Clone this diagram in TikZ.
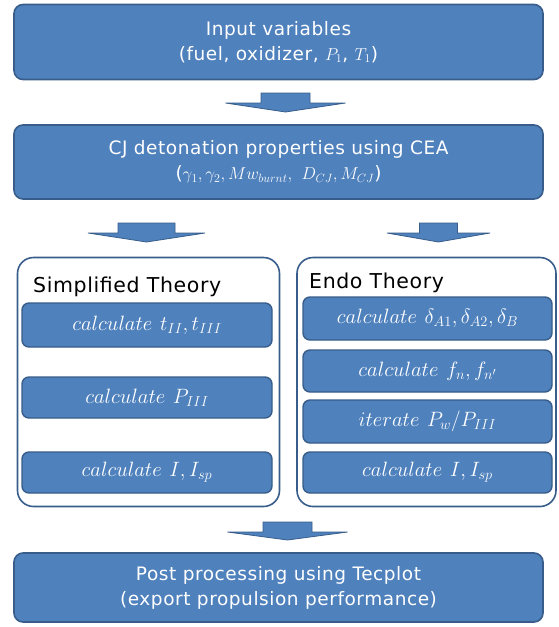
\documentclass[tikz,border=0pt]{standalone}
\usepackage{fontspec}
\setmainfont[LetterSpace=3]{DejaVu Sans}
\usetikzlibrary{calc}
\definecolor{bfill}{HTML}{4F81BD}
\definecolor{bline}{HTML}{385D8A}
\begin{document}
\begin{tikzpicture}[x=1pt,y=-1pt,
  mainbox/.style={draw=bline,fill=bfill,line width=1.6pt,rounded corners=9pt,text=white,
    align=center,font=\fontsize{18.5}{25}\selectfont,inner sep=0pt},
  groupbox/.style={draw=bline,fill=white,line width=1.6pt,rounded corners=16pt,inner sep=0pt},
  stepbox/.style={draw=bline,fill=bfill,line width=1.4pt,rounded corners=7pt,text=white,
    font=\fontsize{22}{26}\selectfont,inner sep=0pt},
  grouptitle/.style={anchor=base west,font=\fontsize{20.5}{24}\selectfont,text=black,inner sep=0pt},
  blockarrow/.style={fill=bfill,draw=bline,line width=0.8pt,line join=miter}]
\useasboundingbox (0,0) rectangle (558,627);

\node[mainbox,minimum width=529pt,minimum height=75pt] (inp) at (278.5,42)
  {Input variables\\(fuel, oxidizer, $P_1$, $T_1$)};
\node[mainbox,minimum width=529pt,minimum height=74pt] (cj) at (278.5,162)
  {CJ detonation properties using CEA\\($\gamma_1,\gamma_2,Mw_{burnt},\ D_{CJ},M_{CJ}$)};

\node[groupbox,minimum width=262pt,minimum height=249pt] (simp) at (148.5,382) {};
\node[groupbox,minimum width=259pt,minimum height=249pt] (endo) at (426.5,382) {};

\node[grouptitle] (simpt) at (33,292) {Simplified Theory};
\node[grouptitle] (endot) at (309,288) {Endo Theory};

\node[stepbox,minimum width=250pt,minimum height=44pt] (s1) at (147,325) {$calculate\ t_{II},t_{III}$};
\node[stepbox,minimum width=250pt,minimum height=41pt] (s2) at (147,397.5) {$calculate\ P_{III}$};
\node[stepbox,minimum width=250pt,minimum height=41pt] (s3) at (147,472.5) {$calculate\ I,I_{sp}$};

\node[stepbox,minimum width=249pt,minimum height=43pt] (e1) at (427.5,318.5) {$calculate\ \delta_{A1},\delta_{A2},\delta_B$};
\node[stepbox,minimum width=249pt,minimum height=42pt] (e2) at (427.5,371) {$calculate\ f_n,f_{n'}$};
\node[stepbox,minimum width=249pt,minimum height=43pt] (e3) at (427.5,421.5) {$iterate\ P_w/P_{III}$};
\node[stepbox,minimum width=249pt,minimum height=41pt] (e4) at (427.5,472.5) {$calculate\ I,I_{sp}$};

\node[mainbox,minimum width=529pt,minimum height=69pt] (post) at (278.5,587.5)
  {Post processing using Tecplot\\(export propulsion performance)};

% block arrows
\newcommand{\blockarr}[6]{% cx, top, headbase, tip, stem half, head half
  \draw[blockarrow] (#1-#5,#2) -- (#1+#5,#2) -- (#1+#5,#3) -- (#1+#6,#3) -- (#1,#4)
    -- (#1-#6,#3) -- (#1-#5,#3) -- cycle;}
\blockarr{285.5}{93}{103}{112}{24.5}{60}
\blockarr{146.5}{223}{233}{242}{28.5}{58.5}
\blockarr{438.5}{223}{233}{242}{19}{51.5}
\blockarr{287.5}{522}{532}{540}{24.5}{60}
\end{tikzpicture}
\end{document}
